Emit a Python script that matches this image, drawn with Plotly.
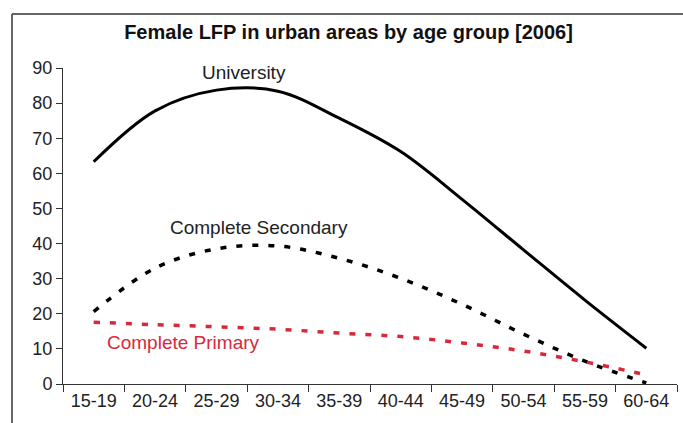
import plotly.graph_objects as go

age_groups = ["15-19", "20-24", "25-29", "30-34", "35-39", "40-44", "45-49", "50-54", "55-59", "60-64"]
university = [63.3, 77.8, 83.7, 83.4, 75.7, 66.2, 52.6, 38.2, 23.9, 10.2]
complete_secondary = [20.6, 33.0, 38.5, 39.3, 35.8, 30.1, 22.7, 14.2, 6.5, 0.3]
complete_primary = [17.6, 16.9, 16.3, 15.6, 14.5, 13.5, 11.7, 9.4, 6.3, 2.6]
y_ticks = [0, 10, 20, 30, 40, 50, 60, 70, 80, 90]

FONT = "Liberation Sans, Arial, sans-serif"
RED = "#d9283c"

fig = go.Figure()
fig.add_trace(go.Scatter(x=age_groups, y=university, mode="lines",
                         line=dict(color="black", width=3, shape="spline", smoothing=1.0),
                         name="University", showlegend=False, hoverinfo="skip"))
fig.add_trace(go.Scatter(x=age_groups, y=complete_secondary, mode="lines",
                         line=dict(color="black", width=3.5, shape="spline", dash="6px,10px"),
                         name="Complete Secondary", showlegend=False, hoverinfo="skip"))
fig.add_trace(go.Scatter(x=age_groups, y=complete_primary, mode="lines",
                         line=dict(color=RED, width=3.5, shape="spline", dash="6px,10px"),
                         name="Complete Primary", showlegend=False, hoverinfo="skip"))

W, H = 683, 423
L, R, T, B = 63, 6, 68, 39
pw, ph = W - L - R, H - T - B
bx = (12 - L) / pw
by = (H - B - 14) / ph

fig.update_layout(
    width=W, height=H,
    margin=dict(l=L, r=R, t=T, b=B, autoexpand=False),
    paper_bgcolor="white", plot_bgcolor="white",
    font=dict(family=FONT, color="#222", size=18),
    title=dict(text="<b>Female LFP in urban areas by age group [2006]</b>",
               x=348.5 / W, xanchor="center", y=1 - 32 / H, yanchor="middle",
               font=dict(family=FONT, size=20, color="#111"), automargin=False),
    xaxis=dict(type="category", range=[-0.5, 9.5], showgrid=False, zeroline=False,
               showline=True, linecolor="#333", linewidth=1, automargin=False,
               ticks="outside", tickson="boundaries", ticklen=7, tickcolor="#333",
               tickfont=dict(size=18, color="#222")),
    yaxis=dict(range=[0, 90], tickvals=y_ticks, showgrid=False, zeroline=False,
               showline=True, linecolor="#333", linewidth=1, automargin=False,
               ticks="outside", ticklen=6, tickcolor="#333",
               tickfont=dict(size=18, color="#222")),
    annotations=[
        dict(text="University", xref="paper", yref="paper", x=(244 - L) / pw, y=(H - B - 73) / ph,
             showarrow=False, font=dict(size=19, color="#222"), xanchor="center", yanchor="middle"),
        dict(text="Complete Secondary", xref="paper", yref="paper", x=(259 - L) / pw, y=(H - B - 227) / ph,
             showarrow=False, font=dict(size=19, color="#222"), xanchor="center", yanchor="middle"),
        dict(text="Complete Primary", xref="paper", yref="paper", x=(183 - L) / pw, y=(H - B - 342) / ph,
             showarrow=False, font=dict(size=19, color=RED), xanchor="center", yanchor="middle"),
    ],
    shapes=[
        dict(type="line", xref="paper", yref="paper", x0=bx, x1=bx, y0=-0.3, y1=by,
             line=dict(color="#333", width=1.5)),
        dict(type="line", xref="paper", yref="paper", x0=bx, x1=1.2, y0=by, y1=by,
             line=dict(color="#333", width=1.5)),
    ],
)

fig.write_html("out.html", config={"displayModeBar": False},
               post_script="document.body.style.margin='0';document.body.style.padding='0';")
